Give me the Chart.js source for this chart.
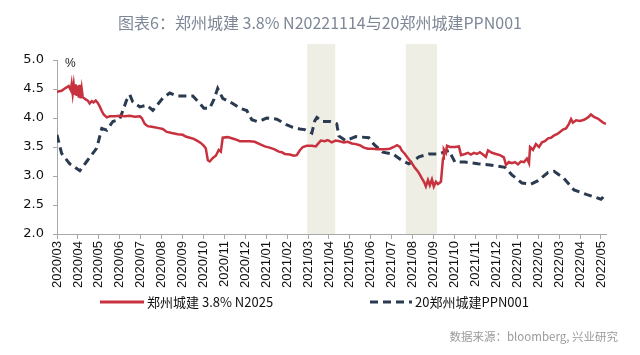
<!DOCTYPE html>
<html>
<head>
<meta charset="utf-8">
<script src="https://cdn.jsdelivr.net/npm/chart.js@4/dist/chart.umd.min.js"></script>
<style>
  html, body { margin: 0; padding: 0; background: #fff; }
  #wrap { position: relative; width: 640px; height: 355px; overflow: hidden; font-family: "Noto Sans CJK SC", "Noto Sans", sans-serif; }
  #c { position: absolute; left: 0; top: 0; }
  #title { position: absolute; left: 0; width: 640px; top: 11px; text-align: center; font-size: 16px; color: #7d8796; line-height: 22px; }
  .leg { position: absolute; top: 293px; height: 18px; font-size: 13px; color: #111; line-height: 18px; white-space: nowrap; }
  .leg svg { vertical-align: middle; margin-right: 3px; position: relative; top: -1px; }
  #src { position: absolute; right: 22px; top: 328px; font-size: 11.5px; color: #9a9a9a; line-height: 16px; }
</style>
</head>
<body>
<div id="wrap">
  <canvas id="c" width="640" height="355"></canvas>
  <div id="title">图表6：郑州城建 3.8% N20221114与20郑州城建PPN001</div>
  <div class="leg" style="left:100px"><svg width="44" height="6"><line x1="0" y1="3" x2="44" y2="3" stroke="#c8313e" stroke-width="3"/></svg>郑州城建 3.8% N2025</div>
  <div class="leg" style="left:370px"><svg width="42" height="6"><line x1="0" y1="3" x2="42" y2="3" stroke="#2a3a50" stroke-width="3" stroke-dasharray="8,5"/></svg>20郑州城建PPN001</div>
  <div id="src">数据来源：bloomberg, 兴业研究</div>
</div>
<script>
// x values: months elapsed since 2020/03/01
const monthLabels = ['2020/03','2020/04','2020/05','2020/06','2020/07','2020/08','2020/09','2020/10','2020/11','2020/12',
  '2021/01','2021/02','2021/03','2021/04','2021/05','2021/06','2021/07','2021/08','2021/09','2021/10','2021/11','2021/12',
  '2022/01','2022/02','2022/03','2022/04','2022/05'];

const redMonths = [0,0.22,0.42,0.56,0.66,0.70,0.75,0.80,0.85,0.89,0.94,0.99,1.04,1.08,1.13,1.18,1.23,1.37,1.47,1.56,1.66,1.75,1.85,1.95,
  2.04,2.14,2.23,2.38,2.52,2.76,3.00,3.24,3.48,3.72,3.96,4.05,4.19,4.33,4.53,4.81,5.05,5.25,5.49,5.77,6.01,6.15,6.35,6.54,6.73,6.87,
  7.02,7.11,7.21,7.30,7.45,7.59,7.73,7.83,7.92,8.16,8.35,8.54,8.74,8.97,9.21,9.45,9.69,9.93,10.16,10.40,10.60,10.74,10.89,11.13,11.32,
  11.46,11.60,11.75,11.94,12.18,12.37,12.51,12.61,12.80,12.94,13.13,13.32,13.51,13.71,13.90,14.09,14.28,14.47,14.67,14.86,15.05,15.34,
  15.67,15.91,16.10,16.25,16.39,16.48,16.63,16.77,16.96,17.11,17.25,17.35,17.44,17.54,17.63,17.73,17.82,17.92,18.01,18.11,18.21,18.35,
  18.45,18.49,18.59,18.64,18.78,19.02,19.21,19.31,19.50,19.64,19.78,19.93,20.07,20.21,20.36,20.50,20.60,20.79,20.98,21.17,21.36,21.46,
  21.60,21.74,21.89,22.03,22.17,22.32,22.46,22.56,22.61,22.75,22.89,23.04,23.18,23.32,23.47,23.61,23.76,23.90,24.04,24.18,24.33,24.47,
  24.57,24.66,24.81,25.00,25.19,25.38,25.52,25.66,25.85,26.00,26.14,26.24];
const redValues = [4.45,4.47,4.52,4.55,4.48,4.58,4.42,4.57,4.40,4.58,4.38,4.56,4.35,4.57,4.34,4.50,4.36,4.32,4.30,4.25,4.29,4.27,4.30,4.26,
  4.20,4.12,4.06,4.01,4.03,4.03,4.04,4.03,4.04,4.02,4.03,4.00,3.90,3.86,3.85,3.83,3.81,3.76,3.74,3.72,3.71,3.68,3.66,3.64,3.60,3.57,
  3.52,3.48,3.27,3.25,3.31,3.35,3.45,3.42,3.66,3.67,3.65,3.63,3.60,3.60,3.60,3.59,3.55,3.51,3.49,3.46,3.42,3.41,3.38,3.37,3.35,
  3.36,3.44,3.50,3.52,3.52,3.51,3.57,3.61,3.60,3.62,3.58,3.61,3.60,3.58,3.59,3.56,3.55,3.53,3.49,3.47,3.47,3.46,
  3.46,3.47,3.50,3.53,3.50,3.44,3.38,3.31,3.22,3.14,3.08,3.02,2.96,2.90,2.82,2.93,2.84,2.94,2.82,2.90,2.86,2.90,
  3.30,3.46,3.40,3.52,3.50,3.50,3.51,3.36,3.38,3.40,3.37,3.40,3.38,3.41,3.37,3.33,3.44,3.40,3.38,3.36,3.32,3.19,
  3.24,3.22,3.24,3.20,3.25,3.24,3.30,3.22,3.50,3.45,3.55,3.50,3.58,3.60,3.65,3.66,3.70,3.72,3.76,3.80,3.82,3.90,
  3.98,3.92,3.96,3.95,3.97,4.01,4.06,4.02,3.99,3.95,3.91,3.90];

const blueMonths = [0,0.22,0.61,1.09,1.42,1.90,2.14,2.38,2.67,3.00,3.33,3.48,3.62,3.96,4.29,4.58,5.05,5.39,5.72,6.49,6.83,7.02,7.30,7.49,
  7.68,7.92,8.40,8.74,9.07,9.31,9.55,9.84,10.03,10.51,10.99,11.27,11.60,11.84,12.18,12.32,12.42,12.66,13.04,13.37,13.47,13.80,14.28,
  14.90,15.14,15.57,16.05,16.48,16.82,17.30,17.78,18.26,18.73,19.02,19.50,20.12,20.69,21.41,21.74,22.22,22.65,22.99,23.47,23.76,24.23,
  24.71,25.33,26.00,26.24];
const blueValues = [3.71,3.39,3.21,3.09,3.25,3.48,3.82,3.79,3.94,3.98,4.31,4.40,4.28,4.19,4.22,4.13,4.34,4.43,4.38,4.38,4.25,4.17,4.17,4.31,
  4.51,4.34,4.25,4.17,4.13,3.97,3.94,3.97,4.00,3.98,3.88,3.84,3.81,3.80,3.74,3.95,4.01,3.94,3.94,3.90,3.69,3.61,3.68,
  3.66,3.55,3.41,3.38,3.27,3.21,3.33,3.38,3.38,3.44,3.24,3.24,3.21,3.19,3.15,3.02,2.88,2.86,2.92,3.06,3.08,2.96,
  2.76,2.68,2.60,2.68];

const yTicks = [2.0, 2.5, 3.0, 3.5, 4.0, 4.5, 5.0];
const shadeStart = [11.96, 16.67];
const shadeEnd = [13.30, 18.16];

const zip = (xs, ys) => xs.map((x, i) => ({ x, y: ys[i] }));

const shadePlugin = {
  id: 'shade',
  beforeDatasetsDraw(chart) {
    const { ctx, chartArea, scales: { x } } = chart;
    ctx.save();
    ctx.fillStyle = '#efeee5';
    shadeStart.forEach((s, i) => {
      const a = x.getPixelForValue(s), b = x.getPixelForValue(shadeEnd[i]);
      ctx.fillRect(a, chartArea.top - 16, b - a, chartArea.bottom - chartArea.top + 16);
    });
    ctx.restore();
  },
  afterDraw(chart) {
    const { ctx, chartArea } = chart;
    ctx.save();
    ctx.fillStyle = '#222';
    ctx.font = '12px "Liberation Sans", sans-serif';
    ctx.textBaseline = 'middle';
    ctx.fillText('%', chartArea.left + 8, chartArea.top + 4);
    ctx.restore();
  }
};

new Chart(document.getElementById('c'), {
  type: 'line',
  data: {
    datasets: [
      { label: '郑州城建 3.8% N2025', data: zip(redMonths, redValues), borderColor: '#c8313e', borderWidth: 2.5,
        pointRadius: 0, tension: 0, fill: false, order: 1 },
      { label: '20郑州城建PPN001', data: zip(blueMonths, blueValues), borderColor: '#2a3a50', borderWidth: 3,
        borderDash: [8, 5], pointRadius: 0, tension: 0, fill: false, order: 2 }
    ]
  },
  options: {
    responsive: false,
    animation: false,
    events: [],
    layout: { padding: { top: 60, right: 34, left: 0, bottom: 0 } },
    plugins: { legend: { display: false }, tooltip: { enabled: false }, title: { display: false } },
    scales: {
      x: {
        type: 'linear', min: 0, max: 26.24,
        afterBuildTicks: s => { s.ticks = monthLabels.map((_, i) => ({ value: i })); },
        afterFit: s => { s.height = 121; },
        ticks: { autoSkip: false, minRotation: 90, maxRotation: 90, padding: 2, color: '#111',
          font: { family: '"Liberation Sans", Arial, sans-serif', size: 13 },
          callback: v => monthLabels[v] },
        grid: { drawOnChartArea: false, drawTicks: true, tickLength: 5, color: '#a8a8a8' },
        border: { display: true, color: '#a8a8a8', width: 1 }
      },
      y: {
        min: 2, max: 5,
        afterBuildTicks: s => { s.ticks = yTicks.map(v => ({ value: v })); },
        afterFit: s => { s.width = 57; },
        ticks: { padding: 9, color: '#111', font: { family: '"DejaVu Sans", sans-serif', size: 13 },
          callback: v => Number(v).toFixed(1) },
        grid: { drawOnChartArea: false, drawTicks: true, tickLength: 4, color: '#a8a8a8' },
        border: { display: true, color: '#a8a8a8', width: 1 }
      }
    }
  },
  plugins: [shadePlugin]
});
</script>
</body>
</html>
